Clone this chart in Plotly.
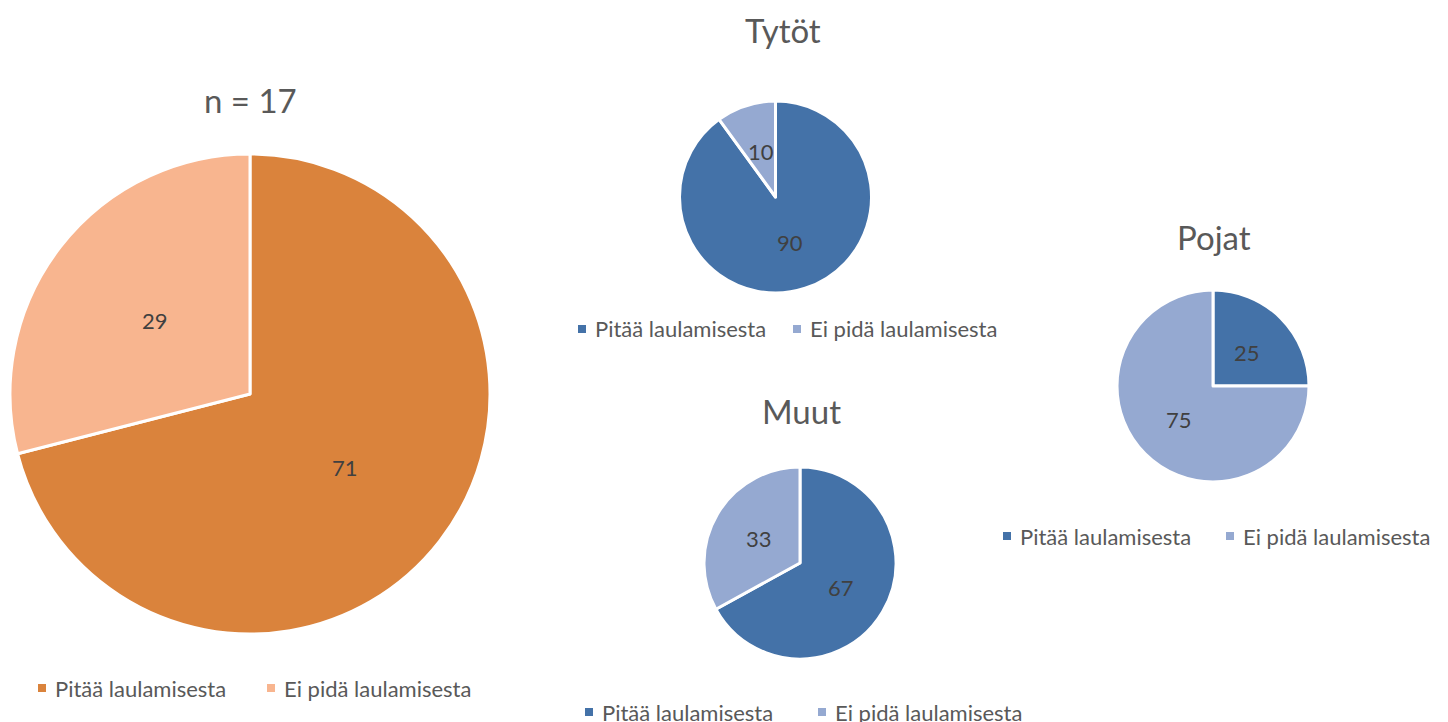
import math
import plotly.graph_objects as go

# the page body adds an 8px margin, so the figure is drawn 8px smaller and shifted
OFF = 8
W, H = 1448 - OFF, 722 - OFF

labels = ["Pitää laulamisesta", "Ei pidä laulamisesta"]
kaikki = [71, 29]
tytot = [90, 10]
muut = [67, 33]
pojat = [25, 75]

orange = ["#DA833C", "#F8B58F"]
blue = ["#4472A8", "#95A9D1"]

FONT = "Lato"
GREY = "#595959"

# (title, values, colors, center x, center y, radius, title x, title y, legend y, legend x0, legend gap)
pies = [
    ("n = 17", kaikki, orange, 250, 394, 240, 250, 100, 688, 38, 229),
    ("Tytöt", tytot, blue, 775.5, 197, 96, 783, 30, 329, 578, 215),
    ("Muut", muut, blue, 800, 563, 96, 801, 411, 712, 585, 233),
    ("Pojat", pojat, blue, 1213, 386, 96, 1214, 237, 536, 1003, 223),
]


def px(x):
    return (x - OFF) / W


def py(y):
    return 1 - (y - OFF) / H


fig = go.Figure()
shapes = []
annotations = []

for title, vals, cols, cx, cy, r, tx, ty, ly, lx, gap in pies:
    fig.add_trace(go.Pie(
        labels=labels, values=vals, sort=False, direction="clockwise", rotation=0,
        marker=dict(colors=cols, line=dict(color="white", width=3)),
        textinfo="none",
        domain=dict(x=[px(cx - r), px(cx + r)], y=[py(cy + r), py(cy - r)]),
        showlegend=False, hoverinfo="label+value",
    ))
    # data labels at half radius on each slice's bisector (like Excel "center")
    total = sum(vals)
    start = 0
    for v in vals:
        mid = 2 * math.pi * (start + v / 2) / total
        start += v
        annotations.append(dict(
            text=str(v), x=px(cx + 0.5 * r * math.sin(mid)), y=py(cy - 0.5 * r * math.cos(mid)),
            xref="paper", yref="paper", showarrow=False,
            font=dict(family=FONT, size=22, color="#404040"),
            xanchor="center", yanchor="middle",
        ))
    annotations.append(dict(
        text=title, x=px(tx), y=py(ty), xref="paper", yref="paper",
        showarrow=False, font=dict(family=FONT, size=33, color=GREY),
        xanchor="center", yanchor="middle",
    ))
    # legend: small squares + text
    for i, lab in enumerate(labels):
        sx = lx + i * gap
        shapes.append(dict(
            type="rect", xref="paper", yref="paper",
            x0=px(sx), x1=px(sx + 8), y0=py(ly + 4), y1=py(ly - 4),
            fillcolor=cols[i], line=dict(width=0),
        ))
        annotations.append(dict(
            text=lab, x=px(sx + 15), y=py(ly), xref="paper", yref="paper",
            showarrow=False, font=dict(family=FONT, size=22, color=GREY),
            xanchor="left", yanchor="middle",
        ))

fig.update_layout(
    width=W, height=H,
    margin=dict(l=0, r=0, t=0, b=0),
    paper_bgcolor="white", plot_bgcolor="white",
    shapes=shapes, annotations=annotations,
)

fig.write_html("out.html")
